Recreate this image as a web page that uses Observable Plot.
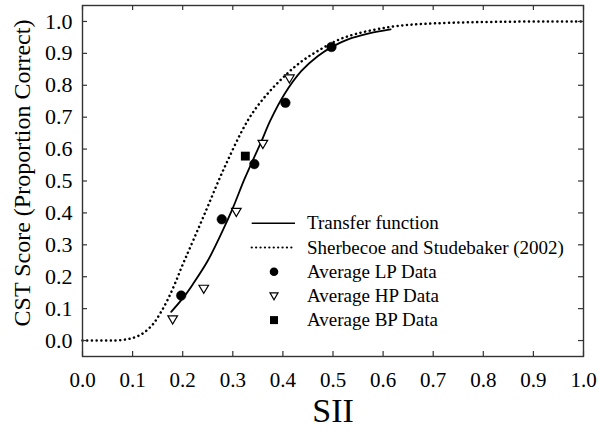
<!DOCTYPE html>
<html><head><meta charset="utf-8">
<script src="https://cdn.jsdelivr.net/npm/d3@7"></script>
<script src="https://cdn.jsdelivr.net/npm/@observablehq/plot@0.6"></script>
<style>
body{margin:0;background:#fff}
svg text{font-family:"Liberation Serif","DejaVu Serif",serif !important;}
g[aria-label="x-axis tick label"]{font-size:21px !important;}
g[aria-label="y-axis tick label"]{font-size:22px !important;}
g[aria-label="x-axis tick label"] text, g[aria-label="y-axis tick label"] text{font-size:inherit !important;}
</style>
</head><body><div id="chart"></div>
<script>
// ---- data ----
const transferSII   = [0.177,0.200,0.220,0.250,0.280,0.300,0.323,0.340,0.356,0.375,0.403,0.437,0.470,0.500,0.530,0.570,0.615];
const transferScore = [0.090,0.132,0.176,0.250,0.345,0.415,0.505,0.565,0.620,0.690,0.772,0.845,0.892,0.922,0.944,0.962,0.975];
const sherbecoeSII   = [0,0.05,0.08,0.10,0.12,0.14,0.155,0.17,0.185,0.20,0.215,0.243,0.283,0.33,0.363,0.397,0.43,0.47,0.523,0.615,0.703,0.837,1.0];
const sherbecoeScore = [0,0.000,0.002,0.008,0.022,0.050,0.085,0.128,0.180,0.238,0.292,0.394,0.541,0.690,0.762,0.819,0.866,0.908,0.950,0.983,0.994,0.999,1.0];
const lpSII   = [0.197,0.278,0.343,0.405,0.497];
const lpScore = [0.141,0.380,0.553,0.745,0.920];
const hpSII   = [0.180,0.242,0.307,0.360,0.413];
const hpScore = [0.066,0.162,0.403,0.616,0.821];
const bpSII   = [0.325];
const bpScore = [0.578];
const xTicks = [0,0.1,0.2,0.3,0.4,0.5,0.6,0.7,0.8,0.9,1.0];
const yTicks = [0,0.1,0.2,0.3,0.4,0.5,0.6,0.7,0.8,0.9,1.0];
const legendLabels = ["Transfer function","Sherbecoe and Studebaker (2002)","Average LP Data","Average HP Data","Average BP Data"];
const xLabel = "SII";
const yLabel = "CST Score (Proportion Correct)";

// ---- build ----
const zip = (a,b) => a.map((v,i)=>({x:v,y:b[i]}));
const transfer = zip(transferSII, transferScore);
const sherbecoe = zip(sherbecoeSII, sherbecoeScore);
const lp = zip(lpSII, lpScore), hp = zip(hpSII, hpScore), bp = zip(bpSII, bpScore);

const triDown = {draw(ctx, size){ const r=Math.sqrt(size/Math.PI); ctx.moveTo(-r,-0.75*r); ctx.lineTo(r,-0.75*r); ctx.lineTo(0,0.95*r); ctx.closePath(); }};

const W=600,H=438, mL=82, mR=17, mT=5, mB=82;
const fw=W-mL-mR, fh=H-mT-mB, tl=5;
const ink="#333";
const serif="Liberation Serif, DejaVu Serif, serif";

const chart = Plot.plot({
  width:W, height:H, marginLeft:mL, marginRight:mR, marginTop:mT, marginBottom:mB,
  style:{fontFamily:serif, background:"white", color:"black"},
  x:{domain:[0,1]},
  y:{domain:[-0.05,1.05]},
  marks:[
    Plot.line(sherbecoe,{x:"x",y:"y",curve:"catmull-rom",stroke:"black",strokeWidth:2.5,strokeDasharray:"0.1,4.6",strokeLinecap:"round"}),
    Plot.line(transfer,{x:"x",y:"y",curve:"catmull-rom",stroke:"black",strokeWidth:1.8}),
    Plot.dot(lp,{x:"x",y:"y",r:4.8,fill:"black",stroke:"black",strokeWidth:0.5}),
    Plot.dot(hp,{x:"x",y:"y",r:4.8,symbol:triDown,fill:"white",stroke:"black",strokeWidth:1.2}),
    Plot.dot(bp,{x:"x",y:"y",r:5,symbol:"square",fill:"black"}),
    Plot.tickX(xTicks,{x:d=>d,insetTop:fh-tl,stroke:ink,strokeWidth:1.2}),
    Plot.tickX(xTicks,{x:d=>d,insetBottom:fh-tl,stroke:ink,strokeWidth:1.2}),
    Plot.tickY(yTicks,{y:d=>d,insetRight:fw-tl,stroke:ink,strokeWidth:1.2}),
    Plot.tickY(yTicks,{y:d=>d,insetLeft:fw-tl,stroke:ink,strokeWidth:1.2}),
    Plot.frame({stroke:ink,strokeWidth:1.4}),
    Plot.axisX({ticks:xTicks,tickSize:0,tickPadding:16,tickFormat:d3.format(".1f"),fontSize:21,label:null}),
    Plot.axisY({ticks:yTicks,tickSize:0,tickPadding:10,tickFormat:d3.format(".1f"),fontSize:22,label:null}),
    Plot.text([xLabel],{frameAnchor:"bottom",dy:55,fontSize:34,lineAnchor:"middle"}),
    Plot.text([yLabel],{frameAnchor:"left",dx:-60,dy:-8,rotate:-90,fontSize:24,lineAnchor:"middle",textAnchor:"middle"})
  ]
});
document.getElementById("chart").appendChild(chart);

// ---- legend (inside the frame) ----
const svg = d3.select(chart);
const lg = svg.append("g").attr("transform",`translate(${mL},${mT})`).attr("font-size",19).attr("text-anchor","start");
const rowY = i => 218.3 + i*24.2;
const lineX0=169.7, lineX1=213, markX=192, textX=225;
lg.append("line").attr("x1",lineX0).attr("x2",lineX1).attr("y1",rowY(0)).attr("y2",rowY(0)).attr("stroke","black").attr("stroke-width",1.6);
lg.append("line").attr("x1",lineX0).attr("x2",lineX1).attr("y1",rowY(1)).attr("y2",rowY(1)).attr("stroke","black").attr("stroke-width",2.2).attr("stroke-linecap","round").attr("stroke-dasharray","0.1,4.3");
lg.append("path").attr("transform",`translate(${markX},${rowY(2)})`).attr("d",d3.symbol(d3.symbolCircle, Math.PI*4.3*4.3)()).attr("fill","black");
lg.append("path").attr("transform",`translate(${markX},${rowY(3)})`).attr("d",d3.symbol(triDown, Math.PI*4*4)()).attr("fill","white").attr("stroke","black").attr("stroke-width",1.2);
lg.append("path").attr("transform",`translate(${markX},${rowY(4)})`).attr("d",d3.symbol(d3.symbolSquare, 8*8)()).attr("fill","black");
legendLabels.forEach((t,i)=>{
  lg.append("text").attr("x",textX).attr("y",rowY(i)).attr("dy","0.32em").attr("text-anchor","start").text(t);
});
</script>
</body></html>
